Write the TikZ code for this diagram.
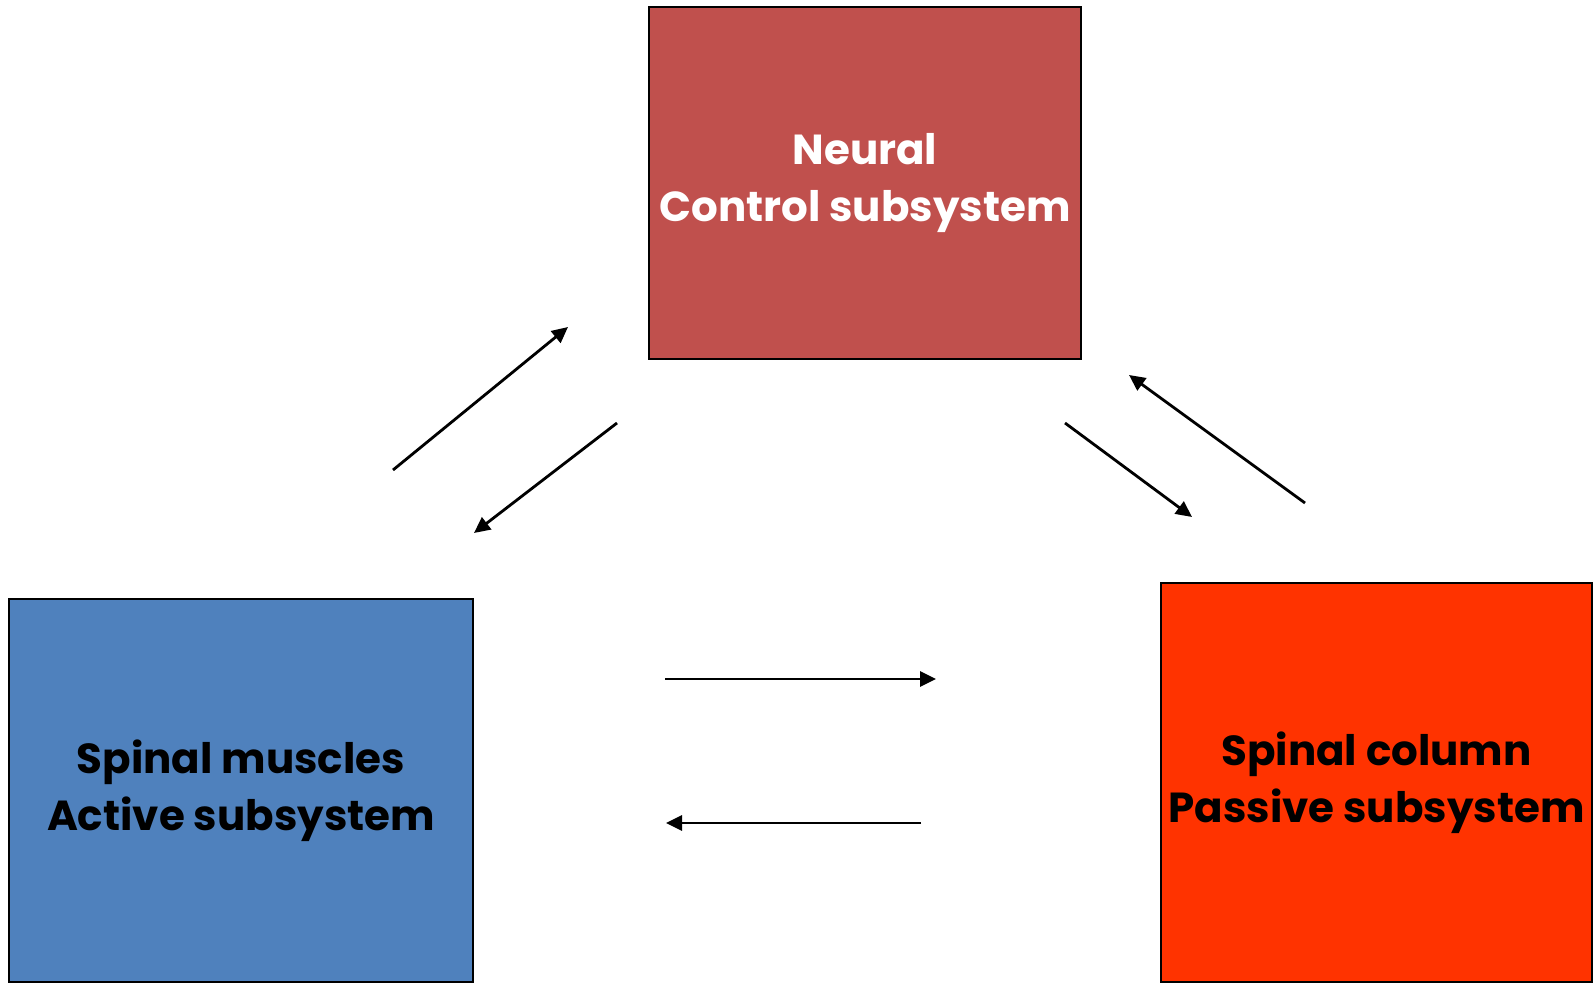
\documentclass[tikz,border=0pt]{standalone}
\usepackage{fontspec}
\setmainfont{Poppins}
\usetikzlibrary{arrows.meta}
\definecolor{neuralred}{HTML}{C0504D}
\definecolor{activeblue}{HTML}{4F81BD}
\definecolor{passivered}{HTML}{FF3300}
\tikzset{
  sysbox/.style={draw=black, line width=1.3pt, align=center, inner sep=0pt,
    font=\fontsize{21}{28.5}\selectfont\bfseries},
  link/.style={line width=1.4pt, -{Triangle[length=8pt,width=7.5pt]}}
}
\begin{document}
\begin{tikzpicture}[x=0.5pt,y=-0.5pt]
\useasboundingbox (0,0) rectangle (1593,983);
\node[sysbox, fill=neuralred, text=white, minimum width=216pt, minimum height=176pt] (neural) at (865,183) {Neural\\Control subsystem};
\node[sysbox, fill=activeblue, text=black, minimum width=232pt, minimum height=191.5pt] (active) at (241,790.5) {Spinal muscles\\Active subsystem};
\node[sysbox, fill=passivered, text=black, minimum width=215.5pt, minimum height=199.5pt] (passive) at (1376.5,782.5) {Spinal column\\Passive subsystem};
\coordinate (a1s) at (393,470); \coordinate (a1e) at (568,327);
\coordinate (a2s) at (617,423); \coordinate (a2e) at (474,533);
\coordinate (a3s) at (1065,423); \coordinate (a3e) at (1192,517);
\coordinate (a4s) at (1305,503); \coordinate (a4e) at (1129,375);
\coordinate (a5s) at (665,679); \coordinate (a5e) at (936,679);
\coordinate (a6s) at (921,823); \coordinate (a6e) at (666,823);
\draw[link] (a1s) -- (a1e);
\draw[link] (a2s) -- (a2e);
\draw[link] (a3s) -- (a3e);
\draw[link] (a4s) -- (a4e);
\draw[link] (a5s) -- (a5e);
\draw[link] (a6s) -- (a6e);
\end{tikzpicture}
\end{document}
